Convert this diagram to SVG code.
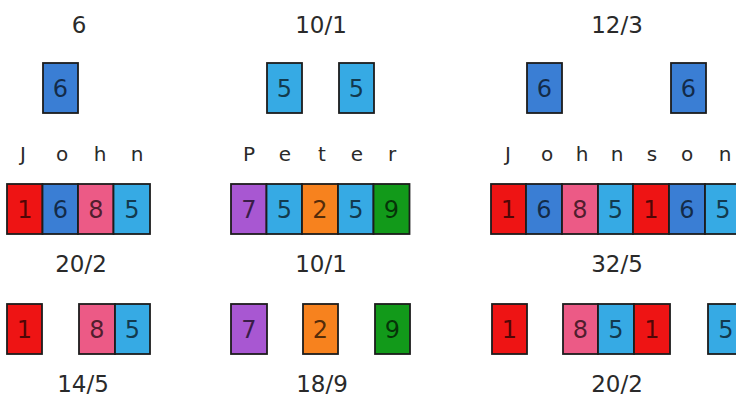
<svg xmlns="http://www.w3.org/2000/svg" width="736" height="402" viewBox="0 0 736 402">
<style>
.lbl{font-family:"DejaVu Sans",sans-serif;font-size:23px;fill:#2a2a2a;text-anchor:middle}
.let{font-family:"DejaVu Sans",sans-serif;font-size:20px;fill:#2a2a2a;text-anchor:middle}
.b{stroke:#1c1c1c;stroke-width:1.8}
.d{font-family:"DejaVu Sans",sans-serif;font-size:24px;fill:#000;fill-opacity:0.68;text-anchor:middle}
.c1{fill:#ee1414}.c6{fill:#3a7ed4}.c8{fill:#ec5a86}.c5{fill:#36aae4}.c7{fill:#a857d2}.c2{fill:#f7821e}.c9{fill:#129a1a}
</style>
<rect width="736" height="402" fill="#fff"/>
<g id="labels">
<text class="lbl" x="79" y="33">6</text>
<text class="lbl" x="321" y="33">10/1</text>
<text class="lbl" x="617" y="33">12/3</text>
<text class="lbl" x="81" y="272">20/2</text>
<text class="lbl" x="321" y="272">10/1</text>
<text class="lbl" x="617" y="272">32/5</text>
<text class="lbl" x="83" y="392">14/5</text>
<text class="lbl" x="322" y="392">18/9</text>
<text class="lbl" x="617" y="392">20/2</text>
</g>
<g id="letters">
<text class="let" x="23" y="161">J</text><text class="let" x="62" y="161">o</text><text class="let" x="100" y="161">h</text><text class="let" x="137" y="161">n</text>
<text class="let" x="249" y="161">P</text><text class="let" x="285" y="161">e</text><text class="let" x="322" y="161">t</text><text class="let" x="357" y="161">e</text><text class="let" x="392" y="161">r</text>
<text class="let" x="508" y="161">J</text><text class="let" x="547" y="161">o</text><text class="let" x="582" y="161">h</text><text class="let" x="617" y="161">n</text><text class="let" x="652" y="161">s</text><text class="let" x="687" y="161">o</text><text class="let" x="725" y="161">n</text>
</g>
<g id="top-john"><rect class="b c6" x="43" y="63" width="35" height="50"/><text class="d" x="60.5" y="97">6</text></g>
<g id="top-peter-1"><rect class="b c5" x="267" y="63" width="35" height="50"/><text class="d" x="284.5" y="97">5</text></g>
<g id="top-peter-2"><rect class="b c5" x="339" y="63" width="35" height="50"/><text class="d" x="356.5" y="97">5</text></g>
<g id="top-johnson-1"><rect class="b c6" x="527" y="63" width="35" height="50"/><text class="d" x="544.5" y="97">6</text></g>
<g id="top-johnson-2"><rect class="b c6" x="671" y="63" width="35" height="50"/><text class="d" x="688.5" y="97">6</text></g>
<g id="row-john">
<rect class="b c1" x="7" y="184" width="35.5" height="50"/><text class="d" x="24.8" y="218">1</text>
<rect class="b c6" x="42.5" y="184" width="35.5" height="50"/><text class="d" x="60.3" y="218">6</text>
<rect class="b c8" x="78" y="184" width="35.5" height="50"/><text class="d" x="95.8" y="218">8</text>
<rect class="b c5" x="113.5" y="184" width="36.5" height="50"/><text class="d" x="131.8" y="218">5</text>
</g>
<g id="row-peter">
<rect class="b c7" x="231" y="184" width="35.5" height="50"/><text class="d" x="248.8" y="218">7</text>
<rect class="b c5" x="266.5" y="184" width="35.5" height="50"/><text class="d" x="284.3" y="218">5</text>
<rect class="b c2" x="302" y="184" width="36" height="50"/><text class="d" x="320" y="218">2</text>
<rect class="b c5" x="338" y="184" width="35.5" height="50"/><text class="d" x="355.8" y="218">5</text>
<rect class="b c9" x="373.5" y="184" width="36" height="50"/><text class="d" x="391.5" y="218">9</text>
</g>
<g id="row-johnson">
<rect class="b c1" x="491" y="184" width="35" height="50"/><text class="d" x="508.5" y="218">1</text>
<rect class="b c6" x="526" y="184" width="36" height="50"/><text class="d" x="544" y="218">6</text>
<rect class="b c8" x="562" y="184" width="36" height="50"/><text class="d" x="580" y="218">8</text>
<rect class="b c5" x="598" y="184" width="35" height="50"/><text class="d" x="615.5" y="218">5</text>
<rect class="b c1" x="633" y="184" width="36" height="50"/><text class="d" x="651" y="218">1</text>
<rect class="b c6" x="669" y="184" width="36" height="50"/><text class="d" x="687" y="218">6</text>
<rect class="b c5" x="705" y="184" width="36" height="50"/><text class="d" x="723" y="218">5</text>
</g>
<g id="bottom-john">
<rect class="b c1" x="7" y="304" width="35" height="50"/><text class="d" x="24.5" y="338">1</text>
<rect class="b c8" x="79" y="304" width="36" height="50"/><text class="d" x="97" y="338">8</text>
<rect class="b c5" x="115" y="304" width="35" height="50"/><text class="d" x="132.5" y="338">5</text>
</g>
<g id="bottom-peter">
<rect class="b c7" x="231" y="304" width="36" height="50"/><text class="d" x="249" y="338">7</text>
<rect class="b c2" x="303" y="304" width="35" height="50"/><text class="d" x="320.5" y="338">2</text>
<rect class="b c9" x="375" y="304" width="35" height="50"/><text class="d" x="392.5" y="338">9</text>
</g>
<g id="bottom-johnson">
<rect class="b c1" x="492" y="304" width="35" height="50"/><text class="d" x="509.5" y="338">1</text>
<rect class="b c8" x="563" y="304" width="35" height="50"/><text class="d" x="580.5" y="338">8</text>
<rect class="b c5" x="598" y="304" width="36" height="50"/><text class="d" x="616" y="338">5</text>
<rect class="b c1" x="634" y="304" width="36" height="50"/><text class="d" x="652" y="338">1</text>
<rect class="b c5" x="708" y="304" width="36" height="50"/><text class="d" x="726" y="338">5</text>
</g>
</svg>
